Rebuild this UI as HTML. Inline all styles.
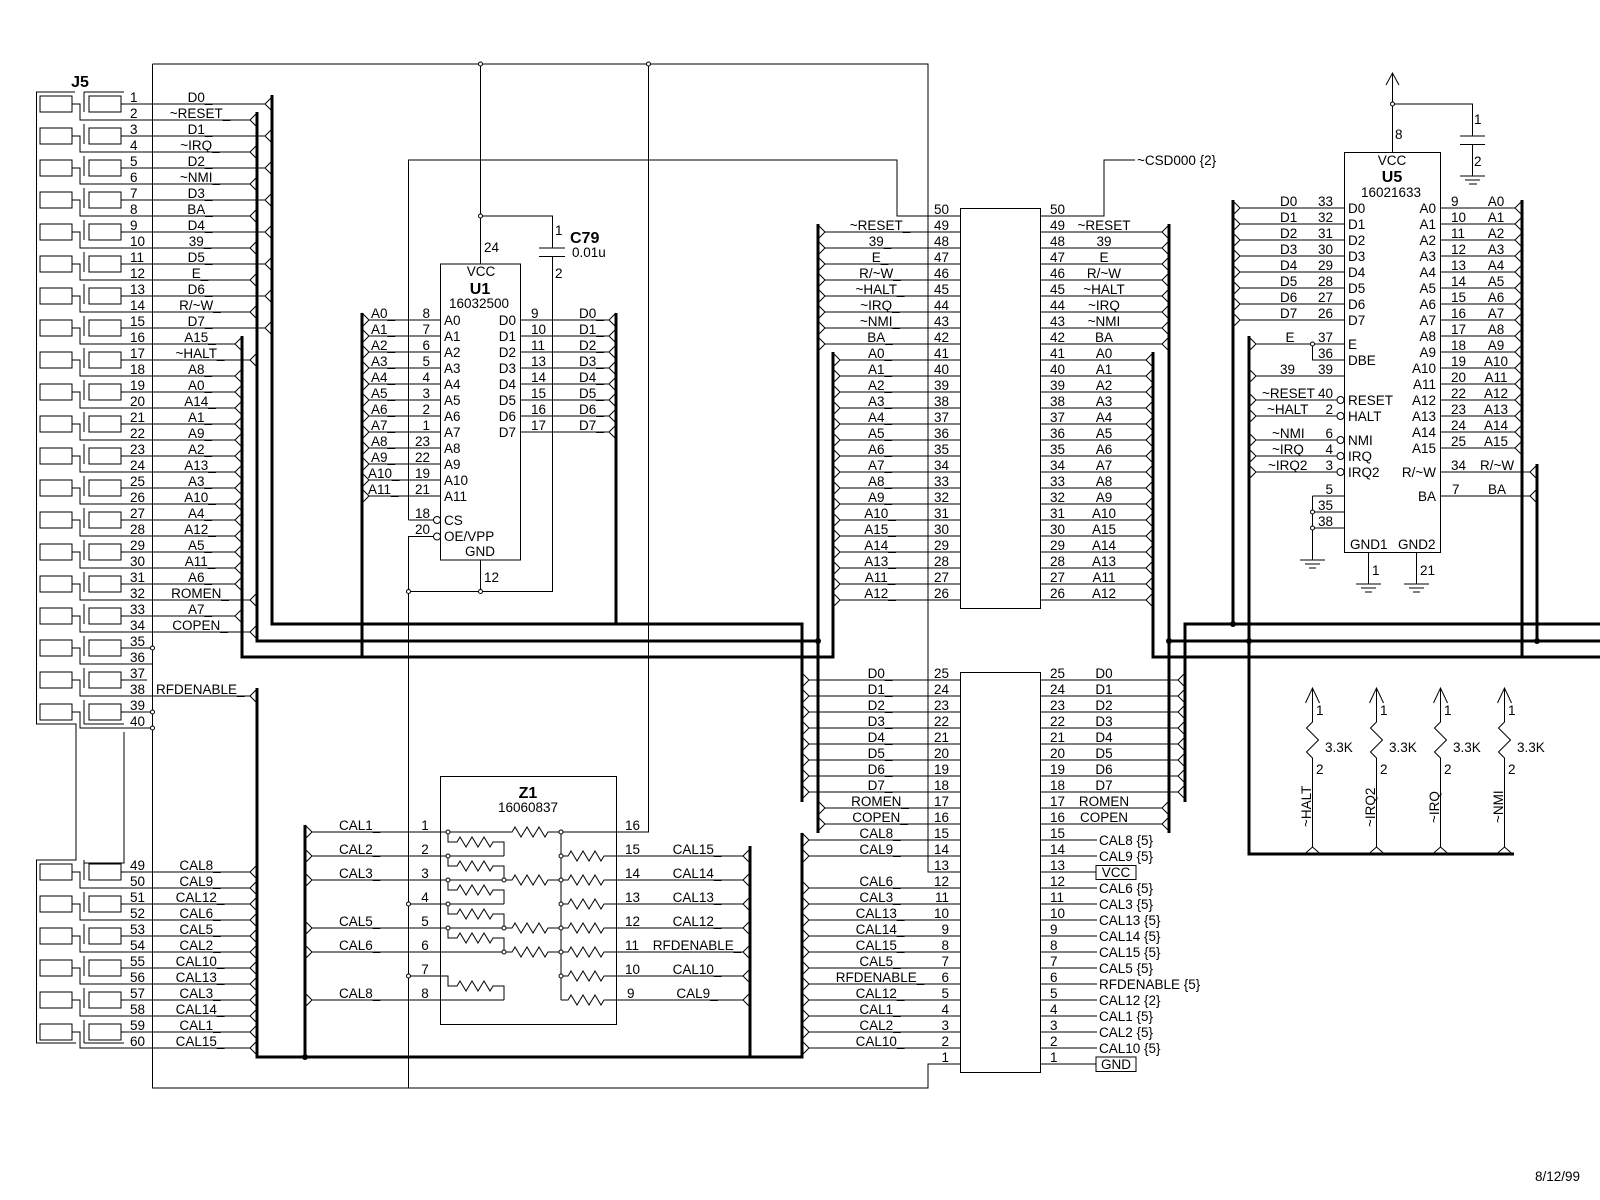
<!DOCTYPE html>
<html><head><meta charset="utf-8">
<style>
html,body{margin:0;padding:0;background:#fff}
svg{display:block}
text{font-family:"Liberation Sans",Arial,sans-serif;font-size:13.5px;fill:#000}
.b{font-weight:bold;font-size:16px}
.m{text-anchor:middle}
.e{text-anchor:end}
</style></head>
<body>
<svg width="1600" height="1200" viewBox="0 0 1600 1200" xmlns="http://www.w3.org/2000/svg">
<rect width="1600" height="1200" fill="#fff"/>

<!-- thin wiring -->
<g fill="none" stroke="#000" stroke-width="1">
<!-- frame / power -->
<path d="M152.5 64H928V872H960M152.5 64V1088H928V1064H960"/>
<path d="M480.5 64V264M480.5 216H552.5V248M539 248H565M539 256.5H565M552.5 256.5V591.5H408.5M480.5 560V591.5"/>
<path d="M408.5 520V160H897V216H960M408.5 520H433.5M433.5 536.5H408.5V1088"/>
<path d="M1040.5 216H1104V160H1135"/>

<!-- J5 boxes -->
<path d="M40 96h32v16H40zM89 96h32v16H89zM40 128h32v16H40zM89 128h32v16H89zM40 160h32v16H40zM89 160h32v16H89zM40 192h32v16H40zM89 192h32v16H89zM40 224h32v16H40zM89 224h32v16H89zM40 256h32v16H40zM89 256h32v16H89zM40 288h32v16H40zM89 288h32v16H89zM40 320h32v16H40zM89 320h32v16H89zM40 352h32v16H40zM89 352h32v16H89zM40 384h32v16H40zM89 384h32v16H89zM40 416h32v16H40zM89 416h32v16H89zM40 448h32v16H40zM89 448h32v16H89zM40 480h32v16H40zM89 480h32v16H89zM40 512h32v16H40zM89 512h32v16H89zM40 544h32v16H40zM89 544h32v16H89zM40 576h32v16H40zM89 576h32v16H89zM40 608h32v16H40zM89 608h32v16H89zM40 640h32v16H40zM89 640h32v16H89zM40 672h32v16H40zM89 672h32v16H89zM40 704h32v16H40zM89 704h32v16H89zM40 864h32v16H40zM89 864h32v16H89zM40 896h32v16H40zM89 896h32v16H89zM40 928h32v16H40zM89 928h32v16H89zM40 960h32v16H40zM89 960h32v16H89zM40 992h32v16H40zM89 992h32v16H89zM40 1024h32v16H40zM89 1024h32v16H89z"/>
<!-- J5 frame -->
<path d="M75 92H36.5V724H76V860H36.5V1043H76M84 92H124M84 724H124M124 732V863H84M84 1043H124"/>
<!-- J5 wires -->
<path d="M72 104H80V120H250M121 104H265M84 92V112
M72 136H80V152H250M121 136H265M84 124V144
M72 168H80V184H250M121 168H265M84 156V176
M72 200H80V216H250M121 200H265M84 188V208
M72 232H80V248H250M121 232H265M84 220V240
M72 264H80V280H250M121 264H265M84 252V272
M72 296H80V312H250M121 296H265M84 284V304
M72 328H80V344H235M121 328H265M84 316V336
M72 360H80V376H235M121 360H250M84 348V368
M72 392H80V408H235M121 392H235M84 380V400
M72 424H80V440H235M121 424H235M84 412V432
M72 456H80V472H235M121 456H235M84 444V464
M72 488H80V504H235M121 488H235M84 476V496
M72 520H80V536H235M121 520H235M84 508V528
M72 552H80V568H235M121 552H235M84 540V560
M72 584H80V600H250M121 584H235M84 572V592
M72 616H80V632H250M121 616H235M84 604V624
M72 648H80V664H152.5M121 648H152.5M84 636V656
M72 680H80V696H250M121 680H147M84 668V688
M72 712H80V728H152.5M121 712H152.5M84 700V724
M72 872H80V888H250M121 872H250M84 860V880
M72 904H80V920H250M121 904H250M84 892V912
M72 936H80V952H250M121 936H250M84 924V944
M72 968H80V984H250M121 968H250M84 956V976
M72 1000H80V1016H250M121 1000H250M84 988V1008
M72 1032H80V1048H250M121 1032H250M84 1020V1043"/>
<!-- J5 chevrons -->
<path d="M272 97l-7 7 7 7M272 129l-7 7 7 7M272 161l-7 7 7 7M272 193l-7 7 7 7M272 225l-7 7 7 7M272 257l-7 7 7 7M272 289l-7 7 7 7M272 321l-7 7 7 7"/>
<path d="M257 113l-7 7 7 7M257 145l-7 7 7 7M257 177l-7 7 7 7M257 209l-7 7 7 7M257 241l-7 7 7 7M257 273l-7 7 7 7M257 305l-7 7 7 7M257 353l-7 7 7 7M257 593l-7 7 7 7M257 625l-7 7 7 7M257 689l-7 7 7 7M257 865l-7 7 7 7M257 881l-7 7 7 7M257 897l-7 7 7 7M257 913l-7 7 7 7M257 929l-7 7 7 7M257 945l-7 7 7 7M257 961l-7 7 7 7M257 977l-7 7 7 7M257 993l-7 7 7 7M257 1009l-7 7 7 7M257 1025l-7 7 7 7M257 1041l-7 7 7 7"/>
<path d="M242 337l-7 7 7 7M242 369l-7 7 7 7M242 385l-7 7 7 7M242 401l-7 7 7 7M242 417l-7 7 7 7M242 433l-7 7 7 7M242 449l-7 7 7 7M242 465l-7 7 7 7M242 481l-7 7 7 7M242 497l-7 7 7 7M242 513l-7 7 7 7M242 529l-7 7 7 7M242 545l-7 7 7 7M242 561l-7 7 7 7M242 577l-7 7 7 7M242 609l-7 7 7 7"/>

<!-- U1 -->
<rect x="440.5" y="264" width="80" height="296"/>
<path d="M369 320H440.5M369 336H440.5M369 352H440.5M369 368H440.5M369 384H440.5M369 400H440.5M369 416H440.5M369 432H440.5M369 448H440.5M369 464H440.5M369 480H440.5M369 496H440.5"/>
<path d="M362 313l7 7-7 7M362 329l7 7-7 7M362 345l7 7-7 7M362 361l7 7-7 7M362 377l7 7-7 7M362 393l7 7-7 7M362 409l7 7-7 7M362 425l7 7-7 7M362 441l7 7-7 7M362 457l7 7-7 7M362 473l7 7-7 7M362 489l7 7-7 7"/>
<path d="M520.5 320H609M520.5 336H609M520.5 352H609M520.5 368H609M520.5 384H609M520.5 400H609M520.5 416H609M520.5 432H609"/>
<path d="M616 313l-7 7 7 7M616 329l-7 7 7 7M616 345l-7 7 7 7M616 361l-7 7 7 7M616 377l-7 7 7 7M616 393l-7 7 7 7M616 409l-7 7 7 7M616 425l-7 7 7 7"/>
<circle cx="437" cy="520" r="3.5"/><circle cx="437" cy="536.5" r="3.5"/>

<!-- Central connector lines -->
<path d="M825 232H1162M825 248H1162M825 264H1162M825 280H1162M825 296H1162M825 312H1162M825 328H1162M825 344H1162M825 808H1162M825 824H1162"/>
<path d="M840 360H1146M840 376H1146M840 392H1146M840 408H1146M840 424H1146M840 440H1146M840 456H1146M840 472H1146M840 488H1146M840 504H1146M840 520H1146M840 536H1146M840 552H1146M840 568H1146M840 584H1146M840 600H1146"/>
<path d="M809 680H1178M809 696H1178M809 712H1178M809 728H1178M809 744H1178M809 760H1178M809 776H1178M809 792H1178"/>
<path d="M809 840H1097M809 856H1097M809 888H1097M809 904H1097M809 920H1097M809 936H1097M809 952H1097M809 968H1097M809 984H1097M809 1000H1097M809 1016H1097M809 1032H1097M809 1048H1097M928 872H1096M928 1064H1096"/>
<!-- connector chevrons -->
<path d="M818 225l7 7-7 7M818 241l7 7-7 7M818 257l7 7-7 7M818 273l7 7-7 7M818 289l7 7-7 7M818 305l7 7-7 7M818 321l7 7-7 7M818 337l7 7-7 7M818 801l7 7-7 7M818 817l7 7-7 7"/>
<path d="M833 353l7 7-7 7M833 369l7 7-7 7M833 385l7 7-7 7M833 401l7 7-7 7M833 417l7 7-7 7M833 433l7 7-7 7M833 449l7 7-7 7M833 465l7 7-7 7M833 481l7 7-7 7M833 497l7 7-7 7M833 513l7 7-7 7M833 529l7 7-7 7M833 545l7 7-7 7M833 561l7 7-7 7M833 577l7 7-7 7M833 593l7 7-7 7"/>
<path d="M802 673l7 7-7 7M802 689l7 7-7 7M802 705l7 7-7 7M802 721l7 7-7 7M802 737l7 7-7 7M802 753l7 7-7 7M802 769l7 7-7 7M802 785l7 7-7 7M802 833l7 7-7 7M802 849l7 7-7 7M802 881l7 7-7 7M802 897l7 7-7 7M802 913l7 7-7 7M802 929l7 7-7 7M802 945l7 7-7 7M802 961l7 7-7 7M802 977l7 7-7 7M802 993l7 7-7 7M802 1009l7 7-7 7M802 1025l7 7-7 7M802 1041l7 7-7 7"/>
<path d="M1169 225l-7 7 7 7M1169 241l-7 7 7 7M1169 257l-7 7 7 7M1169 273l-7 7 7 7M1169 289l-7 7 7 7M1169 305l-7 7 7 7M1169 321l-7 7 7 7M1169 337l-7 7 7 7M1169 801l-7 7 7 7M1169 817l-7 7 7 7"/>
<path d="M1153 353l-7 7 7 7M1153 369l-7 7 7 7M1153 385l-7 7 7 7M1153 401l-7 7 7 7M1153 417l-7 7 7 7M1153 433l-7 7 7 7M1153 449l-7 7 7 7M1153 465l-7 7 7 7M1153 481l-7 7 7 7M1153 497l-7 7 7 7M1153 513l-7 7 7 7M1153 529l-7 7 7 7M1153 545l-7 7 7 7M1153 561l-7 7 7 7M1153 577l-7 7 7 7M1153 593l-7 7 7 7"/>
<path d="M1185 673l-7 7 7 7M1185 689l-7 7 7 7M1185 705l-7 7 7 7M1185 721l-7 7 7 7M1185 737l-7 7 7 7M1185 753l-7 7 7 7M1185 769l-7 7 7 7M1185 785l-7 7 7 7"/>
<rect x="960.5" y="208.5" width="80" height="400" fill="#fff"/>
<rect x="960.5" y="672.5" width="80" height="400" fill="#fff"/>
<rect x="1096" y="865.5" width="40" height="14"/>
<rect x="1096" y="1057" width="40" height="14.5"/>

<!-- Z1 -->
<rect x="440.5" y="776.5" width="176" height="248"/>
<path d="M312 832H512l3-5 6 10 6-10 6 10 6-10 6 10 3-5H648.5V64"/>
<path d="M312 856H504M312 880H512l3-5 6 10 6-10 6 10 6-10 6 10 3-5H561M408.5 904H504M312 928H512l3-5 6 10 6-10 6 10 6-10 6 10 3-5H561M312 952H512l3-5 6 10 6-10 6 10 6-10 6 10 3-5H561M312 1000H504"/>
<path d="M448 832V842H457l3-5 6 10 6-10 6 10 6-10 6 10 3-5H504V856M448 856V866H457l3-5 6 10 6-10 6 10 6-10 6 10 3-5H504V880M448 880V890H457l3-5 6 10 6-10 6 10 6-10 6 10 3-5H504V904M448 904V914H457l3-5 6 10 6-10 6 10 6-10 6 10 3-5H504V928M448 928V938H457l3-5 6 10 6-10 6 10 6-10 6 10 3-5H504V952M408.5 976H448V986H457l3-5 6 10 6-10 6 10 6-10 6 10 3-5H504V1000"/>
<path d="M561 832V1000M561 856H568l3-5 6 10 6-10 6 10 6-10 6 10 3-5H743M561 880H568l3-5 6 10 6-10 6 10 6-10 6 10 3-5H743M561 904H568l3-5 6 10 6-10 6 10 6-10 6 10 3-5H743M561 928H568l3-5 6 10 6-10 6 10 6-10 6 10 3-5H743M561 952H568l3-5 6 10 6-10 6 10 6-10 6 10 3-5H743M561 976H568l3-5 6 10 6-10 6 10 6-10 6 10 3-5H743M561 1000H568l3-5 6 10 6-10 6 10 6-10 6 10 3-5H743"/>
<path d="M305 825l7 7-7 7M305 849l7 7-7 7M305 873l7 7-7 7M305 921l7 7-7 7M305 945l7 7-7 7M305 993l7 7-7 7"/>
<path d="M750 849l-7 7 7 7M750 873l-7 7 7 7M750 897l-7 7 7 7M750 921l-7 7 7 7M750 945l-7 7 7 7M750 969l-7 7 7 7M750 993l-7 7 7 7"/>

<!-- U5 -->
<rect x="1344.5" y="152.5" width="96" height="400"/>
<path d="M1392.5 73V152.5M1386 85L1392.5 73L1399 85M1392.5 104H1472.5V136M1460 136H1485M1460 144.5H1485M1472.5 144.5V176M1460 176H1485M1465 180H1480M1469 184H1477"/>
<path d="M1240 208H1344.5M1240 224H1344.5M1240 240H1344.5M1240 256H1344.5M1240 272H1344.5M1240 288H1344.5M1240 304H1344.5M1240 320H1344.5"/>
<path d="M1233 201l7 7-7 7M1233 217l7 7-7 7M1233 233l7 7-7 7M1233 249l7 7-7 7M1233 265l7 7-7 7M1233 281l7 7-7 7M1233 297l7 7-7 7M1233 313l7 7-7 7"/>
<path d="M1256 344H1344.5M1312.5 344V360H1344.5M1256 376H1344.5M1256 400H1337M1256 416H1337M1256 440H1337M1256 456H1337M1256 472H1337"/>
<path d="M1249 337l7 7-7 7M1249 369l7 7-7 7M1249 393l7 7-7 7M1249 409l7 7-7 7M1249 433l7 7-7 7M1249 449l7 7-7 7M1249 465l7 7-7 7"/>
<circle cx="1340.5" cy="400" r="3.5"/><circle cx="1340.5" cy="416" r="3.5"/><circle cx="1340.5" cy="440" r="3.5"/><circle cx="1340.5" cy="456" r="3.5"/><circle cx="1340.5" cy="472" r="3.5"/>
<path d="M1312.5 496H1344.5M1312.5 512H1344.5M1312.5 528H1344.5M1312.5 496V560M1300 560H1325M1305 564H1320M1309 568H1316"/>
<path d="M1368.5 552.5V584M1356 584H1381M1361 588H1376M1365 592H1372M1416.5 552.5V584M1404 584H1429M1409 588H1424M1413 592H1420"/>
<path d="M1440.5 208H1515M1440.5 224H1515M1440.5 240H1515M1440.5 256H1515M1440.5 272H1515M1440.5 288H1515M1440.5 304H1515M1440.5 320H1515M1440.5 336H1515M1440.5 352H1515M1440.5 368H1515M1440.5 384H1515M1440.5 400H1515M1440.5 416H1515M1440.5 432H1515M1440.5 448H1515M1440.5 472H1530M1440.5 496H1530"/>
<path d="M1522 201l-7 7 7 7M1522 217l-7 7 7 7M1522 233l-7 7 7 7M1522 249l-7 7 7 7M1522 265l-7 7 7 7M1522 281l-7 7 7 7M1522 297l-7 7 7 7M1522 313l-7 7 7 7M1522 329l-7 7 7 7M1522 345l-7 7 7 7M1522 361l-7 7 7 7M1522 377l-7 7 7 7M1522 393l-7 7 7 7M1522 409l-7 7 7 7M1522 425l-7 7 7 7M1522 441l-7 7 7 7M1537 465l-7 7 7 7M1537 489l-7 7 7 7"/>

<!-- Pull-ups -->
<path d="M1305.5 703L1312.5 688L1319.5 703M1312.5 688V722l-6 6 12 12-12 12 6 6V847M1304.5 854L1312.5 847L1320.5 854"/>
<path d="M1369.5 703L1376.5 688L1383.5 703M1376.5 688V722l-6 6 12 12-12 12 6 6V847M1368.5 854L1376.5 847L1384.5 854"/>
<path d="M1433.5 703L1440.5 688L1447.5 703M1440.5 688V722l-6 6 12 12-12 12 6 6V847M1432.5 854L1440.5 847L1448.5 854"/>
<path d="M1497.5 703L1504.5 688L1511.5 703M1504.5 688V722l-6 6 12 12-12 12 6 6V847M1496.5 854L1504.5 847L1512.5 854"/>
</g>

<!-- buses -->
<g fill="none" stroke="#000" stroke-width="3">
<path d="M272 95V624H802V802"/>
<path d="M257 112V641H818M818 224V833"/>
<path d="M242 336V657H833V352"/>
<path d="M616 313V624M362 313V657"/>
<path d="M257 688V1057H802V833M305 825V1057M750 846V1057"/>
<path d="M1600 624H1185V802M1169 224V833M1169 641H1600M1153 352V657H1600"/>
<path d="M1233 200V624M1249 336V854H1514M1537 464V641M1522 200V657"/>
</g>

<!-- junction dots -->
<g fill="#000">
<circle cx="818" cy="641" r="3"/><circle cx="1169" cy="641" r="3"/><circle cx="305" cy="1057" r="3"/>
<circle cx="1233" cy="624" r="3"/><circle cx="1249" cy="641" r="3"/><circle cx="1537" cy="641" r="3"/>
</g>
<g fill="#fff" stroke="#000" stroke-width="1">
<circle cx="480.5" cy="64" r="2"/><circle cx="648.5" cy="64" r="2"/><circle cx="480.5" cy="216" r="2"/>
<circle cx="480.5" cy="591.5" r="2"/><circle cx="408.5" cy="591.5" r="2"/>
<circle cx="152.5" cy="648" r="2"/><circle cx="152.5" cy="712" r="2"/><circle cx="152.5" cy="728" r="2"/>
<circle cx="1392.5" cy="104" r="2"/><circle cx="1312.5" cy="344" r="2"/><circle cx="1312.5" cy="512" r="2"/><circle cx="1312.5" cy="528" r="2"/>
<circle cx="448" cy="832" r="2"/><circle cx="448" cy="856" r="2"/><circle cx="448" cy="880" r="2"/><circle cx="448" cy="904" r="2"/><circle cx="448" cy="928" r="2"/>
<circle cx="504" cy="880" r="2"/><circle cx="504" cy="928" r="2"/><circle cx="504" cy="952" r="2"/>
<circle cx="561" cy="832" r="2"/><circle cx="561" cy="856" r="2"/><circle cx="561" cy="880" r="2"/><circle cx="561" cy="904" r="2"/><circle cx="561" cy="928" r="2"/><circle cx="561" cy="952" r="2"/><circle cx="561" cy="976" r="2"/>
<circle cx="408.5" cy="904" r="2"/><circle cx="408.5" cy="976" r="2"/>
</g>

<!-- ===== TEXT ===== -->
<text class="b m" x="80" y="87">J5</text>
<!-- J5 pin numbers -->
<text><tspan x="130" y="102">1</tspan><tspan x="130" y="118">2</tspan><tspan x="130" y="134">3</tspan><tspan x="130" y="150">4</tspan><tspan x="130" y="166">5</tspan><tspan x="130" y="182">6</tspan><tspan x="130" y="198">7</tspan><tspan x="130" y="214">8</tspan><tspan x="130" y="230">9</tspan><tspan x="130" y="246">10</tspan><tspan x="130" y="262">11</tspan><tspan x="130" y="278">12</tspan><tspan x="130" y="294">13</tspan><tspan x="130" y="310">14</tspan><tspan x="130" y="326">15</tspan><tspan x="130" y="342">16</tspan><tspan x="130" y="358">17</tspan><tspan x="130" y="374">18</tspan><tspan x="130" y="390">19</tspan><tspan x="130" y="406">20</tspan><tspan x="130" y="422">21</tspan><tspan x="130" y="438">22</tspan><tspan x="130" y="454">23</tspan><tspan x="130" y="470">24</tspan><tspan x="130" y="486">25</tspan><tspan x="130" y="502">26</tspan><tspan x="130" y="518">27</tspan><tspan x="130" y="534">28</tspan><tspan x="130" y="550">29</tspan><tspan x="130" y="566">30</tspan><tspan x="130" y="582">31</tspan><tspan x="130" y="598">32</tspan><tspan x="130" y="614">33</tspan><tspan x="130" y="630">34</tspan><tspan x="130" y="646">35</tspan><tspan x="130" y="662">36</tspan><tspan x="130" y="678">37</tspan><tspan x="130" y="694">38</tspan><tspan x="130" y="710">39</tspan><tspan x="130" y="726">40</tspan><tspan x="130" y="870">49</tspan><tspan x="130" y="886">50</tspan><tspan x="130" y="902">51</tspan><tspan x="130" y="918">52</tspan><tspan x="130" y="934">53</tspan><tspan x="130" y="950">54</tspan><tspan x="130" y="966">55</tspan><tspan x="130" y="982">56</tspan><tspan x="130" y="998">57</tspan><tspan x="130" y="1014">58</tspan><tspan x="130" y="1030">59</tspan><tspan x="130" y="1046">60</tspan></text>
<!-- J5 names -->
<text class="m"><tspan x="200" y="102">D0_</tspan><tspan x="200" y="118">~RESET_</tspan><tspan x="200" y="134">D1_</tspan><tspan x="200" y="150">~IRQ_</tspan><tspan x="200" y="166">D2_</tspan><tspan x="200" y="182">~NMI_</tspan><tspan x="200" y="198">D3_</tspan><tspan x="200" y="214">BA_</tspan><tspan x="200" y="230">D4_</tspan><tspan x="200" y="246">39_</tspan><tspan x="200" y="262">D5_</tspan><tspan x="200" y="278">E_</tspan><tspan x="200" y="294">D6_</tspan><tspan x="200" y="310">R/~W_</tspan><tspan x="200" y="326">D7_</tspan><tspan x="200" y="342">A15_</tspan><tspan x="200" y="358">~HALT_</tspan><tspan x="200" y="374">A8_</tspan><tspan x="200" y="390">A0_</tspan><tspan x="200" y="406">A14_</tspan><tspan x="200" y="422">A1_</tspan><tspan x="200" y="438">A9_</tspan><tspan x="200" y="454">A2_</tspan><tspan x="200" y="470">A13_</tspan><tspan x="200" y="486">A3_</tspan><tspan x="200" y="502">A10_</tspan><tspan x="200" y="518">A4_</tspan><tspan x="200" y="534">A12_</tspan><tspan x="200" y="550">A5_</tspan><tspan x="200" y="566">A11_</tspan><tspan x="200" y="582">A6_</tspan><tspan x="200" y="598">ROMEN_</tspan><tspan x="200" y="614">A7_</tspan><tspan x="200" y="630">COPEN_</tspan><tspan x="200" y="870">CAL8_</tspan><tspan x="200" y="886">CAL9_</tspan><tspan x="200" y="902">CAL12_</tspan><tspan x="200" y="918">CAL6_</tspan><tspan x="200" y="934">CAL5_</tspan><tspan x="200" y="950">CAL2_</tspan><tspan x="200" y="966">CAL10_</tspan><tspan x="200" y="982">CAL13_</tspan><tspan x="200" y="998">CAL3_</tspan><tspan x="200" y="1014">CAL14_</tspan><tspan x="200" y="1030">CAL1_</tspan><tspan x="200" y="1046">CAL15_</tspan></text>
<text x="156" y="694">RFDENABLE_</text>

<!-- U1 -->
<text class="m" x="481" y="276">VCC</text>
<text class="b m" x="480" y="294">U1</text>
<text class="m" x="479" y="308">16032500</text>
<text x="484" y="252">24</text>
<text x="484" y="582">12</text>
<text class="e"><tspan x="430" y="318">8</tspan><tspan x="430" y="334">7</tspan><tspan x="430" y="350">6</tspan><tspan x="430" y="366">5</tspan><tspan x="430" y="382">4</tspan><tspan x="430" y="398">3</tspan><tspan x="430" y="414">2</tspan><tspan x="430" y="430">1</tspan><tspan x="430" y="446">23</tspan><tspan x="430" y="462">22</tspan><tspan x="430" y="478">19</tspan><tspan x="430" y="494">21</tspan><tspan x="430" y="518">18</tspan><tspan x="430" y="534">20</tspan></text>
<text><tspan x="371" y="318">A0_</tspan><tspan x="371" y="334">A1_</tspan><tspan x="371" y="350">A2_</tspan><tspan x="371" y="366">A3_</tspan><tspan x="371" y="382">A4_</tspan><tspan x="371" y="398">A5_</tspan><tspan x="371" y="414">A6_</tspan><tspan x="371" y="430">A7_</tspan><tspan x="371" y="446">A8_</tspan><tspan x="371" y="462">A9_</tspan><tspan x="368" y="478">A10_</tspan><tspan x="368" y="494">A11_</tspan></text>
<text><tspan x="444" y="325">A0</tspan><tspan x="444" y="341">A1</tspan><tspan x="444" y="357">A2</tspan><tspan x="444" y="373">A3</tspan><tspan x="444" y="389">A4</tspan><tspan x="444" y="405">A5</tspan><tspan x="444" y="421">A6</tspan><tspan x="444" y="437">A7</tspan><tspan x="444" y="453">A8</tspan><tspan x="444" y="469">A9</tspan><tspan x="444" y="485">A10</tspan><tspan x="444" y="501">A11</tspan><tspan x="444" y="525">CS</tspan><tspan x="444" y="541">OE/VPP</tspan></text>
<text class="m" x="480" y="556">GND</text>
<text class="e"><tspan x="516" y="325">D0</tspan><tspan x="516" y="341">D1</tspan><tspan x="516" y="357">D2</tspan><tspan x="516" y="373">D3</tspan><tspan x="516" y="389">D4</tspan><tspan x="516" y="405">D5</tspan><tspan x="516" y="421">D6</tspan><tspan x="516" y="437">D7</tspan></text>
<text><tspan x="531" y="318">9</tspan><tspan x="531" y="334">10</tspan><tspan x="531" y="350">11</tspan><tspan x="531" y="366">13</tspan><tspan x="531" y="382">14</tspan><tspan x="531" y="398">15</tspan><tspan x="531" y="414">16</tspan><tspan x="531" y="430">17</tspan></text>
<text><tspan x="579" y="318">D0_</tspan><tspan x="579" y="334">D1_</tspan><tspan x="579" y="350">D2_</tspan><tspan x="579" y="366">D3_</tspan><tspan x="579" y="382">D4_</tspan><tspan x="579" y="398">D5_</tspan><tspan x="579" y="414">D6_</tspan><tspan x="579" y="430">D7_</tspan></text>
<!-- C79 -->
<text x="555" y="235">1</text><text x="555" y="278">2</text>
<text class="b" x="570" y="243">C79</text>
<text x="572" y="257">0.01u</text>

<!-- Central connector -->
<text class="e"><tspan x="949" y="214">50</tspan><tspan x="949" y="230">49</tspan><tspan x="949" y="246">48</tspan><tspan x="949" y="262">47</tspan><tspan x="949" y="278">46</tspan><tspan x="949" y="294">45</tspan><tspan x="949" y="310">44</tspan><tspan x="949" y="326">43</tspan><tspan x="949" y="342">42</tspan><tspan x="949" y="358">41</tspan><tspan x="949" y="374">40</tspan><tspan x="949" y="390">39</tspan><tspan x="949" y="406">38</tspan><tspan x="949" y="422">37</tspan><tspan x="949" y="438">36</tspan><tspan x="949" y="454">35</tspan><tspan x="949" y="470">34</tspan><tspan x="949" y="486">33</tspan><tspan x="949" y="502">32</tspan><tspan x="949" y="518">31</tspan><tspan x="949" y="534">30</tspan><tspan x="949" y="550">29</tspan><tspan x="949" y="566">28</tspan><tspan x="949" y="582">27</tspan><tspan x="949" y="598">26</tspan><tspan x="949" y="678">25</tspan><tspan x="949" y="694">24</tspan><tspan x="949" y="710">23</tspan><tspan x="949" y="726">22</tspan><tspan x="949" y="742">21</tspan><tspan x="949" y="758">20</tspan><tspan x="949" y="774">19</tspan><tspan x="949" y="790">18</tspan><tspan x="949" y="806">17</tspan><tspan x="949" y="822">16</tspan><tspan x="949" y="838">15</tspan><tspan x="949" y="854">14</tspan><tspan x="949" y="870">13</tspan><tspan x="949" y="886">12</tspan><tspan x="949" y="902">11</tspan><tspan x="949" y="918">10</tspan><tspan x="949" y="934">9</tspan><tspan x="949" y="950">8</tspan><tspan x="949" y="966">7</tspan><tspan x="949" y="982">6</tspan><tspan x="949" y="998">5</tspan><tspan x="949" y="1014">4</tspan><tspan x="949" y="1030">3</tspan><tspan x="949" y="1046">2</tspan><tspan x="949" y="1062">1</tspan></text>
<text><tspan x="1050" y="214">50</tspan><tspan x="1050" y="230">49</tspan><tspan x="1050" y="246">48</tspan><tspan x="1050" y="262">47</tspan><tspan x="1050" y="278">46</tspan><tspan x="1050" y="294">45</tspan><tspan x="1050" y="310">44</tspan><tspan x="1050" y="326">43</tspan><tspan x="1050" y="342">42</tspan><tspan x="1050" y="358">41</tspan><tspan x="1050" y="374">40</tspan><tspan x="1050" y="390">39</tspan><tspan x="1050" y="406">38</tspan><tspan x="1050" y="422">37</tspan><tspan x="1050" y="438">36</tspan><tspan x="1050" y="454">35</tspan><tspan x="1050" y="470">34</tspan><tspan x="1050" y="486">33</tspan><tspan x="1050" y="502">32</tspan><tspan x="1050" y="518">31</tspan><tspan x="1050" y="534">30</tspan><tspan x="1050" y="550">29</tspan><tspan x="1050" y="566">28</tspan><tspan x="1050" y="582">27</tspan><tspan x="1050" y="598">26</tspan><tspan x="1050" y="678">25</tspan><tspan x="1050" y="694">24</tspan><tspan x="1050" y="710">23</tspan><tspan x="1050" y="726">22</tspan><tspan x="1050" y="742">21</tspan><tspan x="1050" y="758">20</tspan><tspan x="1050" y="774">19</tspan><tspan x="1050" y="790">18</tspan><tspan x="1050" y="806">17</tspan><tspan x="1050" y="822">16</tspan><tspan x="1050" y="838">15</tspan><tspan x="1050" y="854">14</tspan><tspan x="1050" y="870">13</tspan><tspan x="1050" y="886">12</tspan><tspan x="1050" y="902">11</tspan><tspan x="1050" y="918">10</tspan><tspan x="1050" y="934">9</tspan><tspan x="1050" y="950">8</tspan><tspan x="1050" y="966">7</tspan><tspan x="1050" y="982">6</tspan><tspan x="1050" y="998">5</tspan><tspan x="1050" y="1014">4</tspan><tspan x="1050" y="1030">3</tspan><tspan x="1050" y="1046">2</tspan><tspan x="1050" y="1062">1</tspan></text>
<text class="m"><tspan x="880" y="230">~RESET_</tspan><tspan x="880" y="246">39_</tspan><tspan x="880" y="262">E_</tspan><tspan x="880" y="278">R/~W_</tspan><tspan x="880" y="294">~HALT_</tspan><tspan x="880" y="310">~IRQ_</tspan><tspan x="880" y="326">~NMI_</tspan><tspan x="880" y="342">BA_</tspan><tspan x="880" y="358">A0_</tspan><tspan x="880" y="374">A1_</tspan><tspan x="880" y="390">A2_</tspan><tspan x="880" y="406">A3_</tspan><tspan x="880" y="422">A4_</tspan><tspan x="880" y="438">A5_</tspan><tspan x="880" y="454">A6_</tspan><tspan x="880" y="470">A7_</tspan><tspan x="880" y="486">A8_</tspan><tspan x="880" y="502">A9_</tspan><tspan x="880" y="518">A10_</tspan><tspan x="880" y="534">A15_</tspan><tspan x="880" y="550">A14_</tspan><tspan x="880" y="566">A13_</tspan><tspan x="880" y="582">A11_</tspan><tspan x="880" y="598">A12_</tspan><tspan x="880" y="678">D0_</tspan><tspan x="880" y="694">D1_</tspan><tspan x="880" y="710">D2_</tspan><tspan x="880" y="726">D3_</tspan><tspan x="880" y="742">D4_</tspan><tspan x="880" y="758">D5_</tspan><tspan x="880" y="774">D6_</tspan><tspan x="880" y="790">D7_</tspan><tspan x="880" y="806">ROMEN_</tspan><tspan x="880" y="822">COPEN_</tspan><tspan x="880" y="838">CAL8_</tspan><tspan x="880" y="854">CAL9_</tspan><tspan x="880" y="886">CAL6_</tspan><tspan x="880" y="902">CAL3_</tspan><tspan x="880" y="918">CAL13_</tspan><tspan x="880" y="934">CAL14_</tspan><tspan x="880" y="950">CAL15_</tspan><tspan x="880" y="966">CAL5_</tspan><tspan x="880" y="982">RFDENABLE_</tspan><tspan x="880" y="998">CAL12_</tspan><tspan x="880" y="1014">CAL1_</tspan><tspan x="880" y="1030">CAL2_</tspan><tspan x="880" y="1046">CAL10_</tspan></text>
<text class="m"><tspan x="1104" y="230">~RESET</tspan><tspan x="1104" y="246">39</tspan><tspan x="1104" y="262">E</tspan><tspan x="1104" y="278">R/~W</tspan><tspan x="1104" y="294">~HALT</tspan><tspan x="1104" y="310">~IRQ</tspan><tspan x="1104" y="326">~NMI</tspan><tspan x="1104" y="342">BA</tspan><tspan x="1104" y="358">A0</tspan><tspan x="1104" y="374">A1</tspan><tspan x="1104" y="390">A2</tspan><tspan x="1104" y="406">A3</tspan><tspan x="1104" y="422">A4</tspan><tspan x="1104" y="438">A5</tspan><tspan x="1104" y="454">A6</tspan><tspan x="1104" y="470">A7</tspan><tspan x="1104" y="486">A8</tspan><tspan x="1104" y="502">A9</tspan><tspan x="1104" y="518">A10</tspan><tspan x="1104" y="534">A15</tspan><tspan x="1104" y="550">A14</tspan><tspan x="1104" y="566">A13</tspan><tspan x="1104" y="582">A11</tspan><tspan x="1104" y="598">A12</tspan><tspan x="1104" y="678">D0</tspan><tspan x="1104" y="694">D1</tspan><tspan x="1104" y="710">D2</tspan><tspan x="1104" y="726">D3</tspan><tspan x="1104" y="742">D4</tspan><tspan x="1104" y="758">D5</tspan><tspan x="1104" y="774">D6</tspan><tspan x="1104" y="790">D7</tspan><tspan x="1104" y="806">ROMEN</tspan><tspan x="1104" y="822">COPEN</tspan></text>
<text><tspan x="1099" y="845">CAL8 {5}</tspan><tspan x="1099" y="861">CAL9 {5}</tspan><tspan x="1099" y="893">CAL6 {5}</tspan><tspan x="1099" y="909">CAL3 {5}</tspan><tspan x="1099" y="925">CAL13 {5}</tspan><tspan x="1099" y="941">CAL14 {5}</tspan><tspan x="1099" y="957">CAL15 {5}</tspan><tspan x="1099" y="973">CAL5 {5}</tspan><tspan x="1099" y="989">RFDENABLE {5}</tspan><tspan x="1099" y="1005">CAL12 {2}</tspan><tspan x="1099" y="1021">CAL1 {5}</tspan><tspan x="1099" y="1037">CAL2 {5}</tspan><tspan x="1099" y="1053">CAL10 {5}</tspan></text>
<text class="m" x="1116" y="877">VCC</text>
<text class="m" x="1116" y="1069">GND</text>
<text x="1137" y="165">~CSD000 {2}</text>

<!-- Z1 -->
<text class="b m" x="528" y="798">Z1</text>
<text class="m" x="528" y="812">16060837</text>
<text class="m"><tspan x="425" y="830">1</tspan><tspan x="425" y="854">2</tspan><tspan x="425" y="878">3</tspan><tspan x="425" y="902">4</tspan><tspan x="425" y="926">5</tspan><tspan x="425" y="950">6</tspan><tspan x="425" y="974">7</tspan><tspan x="425" y="998">8</tspan></text>
<text><tspan x="339" y="830">CAL1_</tspan><tspan x="339" y="854">CAL2_</tspan><tspan x="339" y="878">CAL3_</tspan><tspan x="339" y="926">CAL5_</tspan><tspan x="339" y="950">CAL6_</tspan><tspan x="339" y="998">CAL8_</tspan></text>
<text><tspan x="625" y="830">16</tspan><tspan x="625" y="854">15</tspan><tspan x="625" y="878">14</tspan><tspan x="625" y="902">13</tspan><tspan x="625" y="926">12</tspan><tspan x="625" y="950">11</tspan><tspan x="625" y="974">10</tspan><tspan x="627" y="998">9</tspan></text>
<text class="m"><tspan x="697" y="854">CAL15_</tspan><tspan x="697" y="878">CAL14_</tspan><tspan x="697" y="902">CAL13_</tspan><tspan x="697" y="926">CAL12_</tspan><tspan x="697" y="950">RFDENABLE_</tspan><tspan x="697" y="974">CAL10_</tspan><tspan x="697" y="998">CAL9_</tspan></text>

<!-- U5 -->
<text x="1395" y="139">8</text>
<text x="1474" y="124">1</text>
<text x="1474" y="166">2</text>
<text class="m" x="1392" y="165">VCC</text>
<text class="b m" x="1392" y="182">U5</text>
<text class="m" x="1391" y="197">16021633</text>
<text><tspan x="1280" y="206">D0</tspan><tspan x="1280" y="222">D1</tspan><tspan x="1280" y="238">D2</tspan><tspan x="1280" y="254">D3</tspan><tspan x="1280" y="270">D4</tspan><tspan x="1280" y="286">D5</tspan><tspan x="1280" y="302">D6</tspan><tspan x="1280" y="318">D7</tspan><tspan x="1280" y="374">39</tspan><tspan x="1262" y="398">~RESET</tspan><tspan x="1267" y="414">~HALT</tspan><tspan x="1272" y="438">~NMI</tspan><tspan x="1272" y="454">~IRQ</tspan><tspan x="1268" y="470">~IRQ2</tspan></text>
<text class="m" x="1290" y="342">E</text>
<text class="e"><tspan x="1333" y="206">33</tspan><tspan x="1333" y="222">32</tspan><tspan x="1333" y="238">31</tspan><tspan x="1333" y="254">30</tspan><tspan x="1333" y="270">29</tspan><tspan x="1333" y="286">28</tspan><tspan x="1333" y="302">27</tspan><tspan x="1333" y="318">26</tspan><tspan x="1333" y="342">37</tspan><tspan x="1333" y="358">36</tspan><tspan x="1333" y="374">39</tspan><tspan x="1333" y="398">40</tspan><tspan x="1333" y="414">2</tspan><tspan x="1333" y="438">6</tspan><tspan x="1333" y="454">4</tspan><tspan x="1333" y="470">3</tspan><tspan x="1333" y="494">5</tspan><tspan x="1333" y="510">35</tspan><tspan x="1333" y="526">38</tspan></text>
<text><tspan x="1348" y="213">D0</tspan><tspan x="1348" y="229">D1</tspan><tspan x="1348" y="245">D2</tspan><tspan x="1348" y="261">D3</tspan><tspan x="1348" y="277">D4</tspan><tspan x="1348" y="293">D5</tspan><tspan x="1348" y="309">D6</tspan><tspan x="1348" y="325">D7</tspan><tspan x="1348" y="349">E</tspan><tspan x="1348" y="365">DBE</tspan><tspan x="1348" y="405">RESET</tspan><tspan x="1348" y="421">HALT</tspan><tspan x="1348" y="445">NMI</tspan><tspan x="1348" y="461">IRQ</tspan><tspan x="1348" y="477">IRQ2</tspan><tspan x="1350" y="549">GND1</tspan><tspan x="1398" y="549">GND2</tspan></text>
<text class="e"><tspan x="1436" y="213">A0</tspan><tspan x="1436" y="229">A1</tspan><tspan x="1436" y="245">A2</tspan><tspan x="1436" y="261">A3</tspan><tspan x="1436" y="277">A4</tspan><tspan x="1436" y="293">A5</tspan><tspan x="1436" y="309">A6</tspan><tspan x="1436" y="325">A7</tspan><tspan x="1436" y="341">A8</tspan><tspan x="1436" y="357">A9</tspan><tspan x="1436" y="373">A10</tspan><tspan x="1436" y="389">A11</tspan><tspan x="1436" y="405">A12</tspan><tspan x="1436" y="421">A13</tspan><tspan x="1436" y="437">A14</tspan><tspan x="1436" y="453">A15</tspan><tspan x="1436" y="477">R/~W</tspan><tspan x="1436" y="501">BA</tspan></text>
<text><tspan x="1451" y="206">9</tspan><tspan x="1451" y="222">10</tspan><tspan x="1451" y="238">11</tspan><tspan x="1451" y="254">12</tspan><tspan x="1451" y="270">13</tspan><tspan x="1451" y="286">14</tspan><tspan x="1451" y="302">15</tspan><tspan x="1451" y="318">16</tspan><tspan x="1451" y="334">17</tspan><tspan x="1451" y="350">18</tspan><tspan x="1451" y="366">19</tspan><tspan x="1451" y="382">20</tspan><tspan x="1451" y="398">22</tspan><tspan x="1451" y="414">23</tspan><tspan x="1451" y="430">24</tspan><tspan x="1451" y="446">25</tspan><tspan x="1451" y="470">34</tspan><tspan x="1452" y="494">7</tspan><tspan x="1480" y="470">R/~W</tspan><tspan x="1488" y="494">BA</tspan><tspan x="1372" y="575">1</tspan><tspan x="1420" y="575">21</tspan></text>
<text class="m"><tspan x="1496" y="206">A0</tspan><tspan x="1496" y="222">A1</tspan><tspan x="1496" y="238">A2</tspan><tspan x="1496" y="254">A3</tspan><tspan x="1496" y="270">A4</tspan><tspan x="1496" y="286">A5</tspan><tspan x="1496" y="302">A6</tspan><tspan x="1496" y="318">A7</tspan><tspan x="1496" y="334">A8</tspan><tspan x="1496" y="350">A9</tspan><tspan x="1496" y="366">A10</tspan><tspan x="1496" y="382">A11</tspan><tspan x="1496" y="398">A12</tspan><tspan x="1496" y="414">A13</tspan><tspan x="1496" y="430">A14</tspan><tspan x="1496" y="446">A15</tspan></text>

<!-- Pull-up labels -->
<text><tspan x="1316" y="715">1</tspan><tspan x="1316" y="774">2</tspan><tspan x="1325" y="752">3.3K</tspan><tspan x="1380" y="715">1</tspan><tspan x="1380" y="774">2</tspan><tspan x="1389" y="752">3.3K</tspan><tspan x="1444" y="715">1</tspan><tspan x="1444" y="774">2</tspan><tspan x="1453" y="752">3.3K</tspan><tspan x="1508" y="715">1</tspan><tspan x="1508" y="774">2</tspan><tspan x="1517" y="752">3.3K</tspan></text>
<text transform="translate(1311 827) rotate(-90)">~HALT</text>
<text transform="translate(1375 827) rotate(-90)">~IRQ2</text>
<text transform="translate(1439 823) rotate(-90)">~IRQ</text>
<text transform="translate(1503 823) rotate(-90)">~NMI</text>

<text x="1535" y="1181">8/12/99</text>
</svg>
</body></html>
